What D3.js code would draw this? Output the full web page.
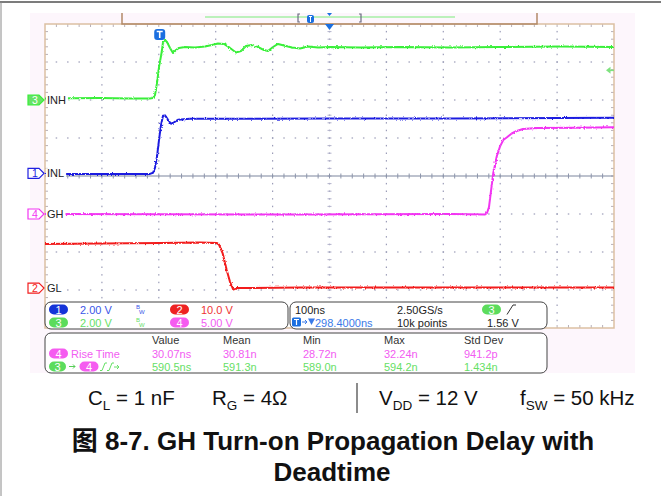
<!DOCTYPE html>
<html>
<head>
<meta charset="utf-8">
<script src="https://cdn.jsdelivr.net/npm/d3@7"></script>
<style>
  html, body { margin: 0; padding: 0; background: #ffffff; }
  svg { display: block; }
  text { font-family: "Liberation Sans", Arial, "Noto Sans CJK SC", sans-serif; }
</style>
</head>
<body>
<svg id="chart" width="661" height="496"></svg>
<script>
// ---- data read off the scope capture ----
// traces as [time ns, volts], time 0 = trigger
const inlTrace = [[-201.6,-0.03],[-17.1,-0.03],[-11.8,0.03],[-8.3,0.29],[-4.8,0.87],[-1.2,1.76],[2.3,2.55],[5.8,3.03],[9.3,3.05],[14.6,2.82],[19.8,2.61],[25.1,2.68],[32.1,2.82],[53.2,2.87],[158.7,2.87],[299.3,2.89],[510.2,2.89],[798.4,2.92]];
const glTrace = [[-201.6,11.58],[-104.9,11.71],[0.5,11.84],[70.8,11.97],[100.7,11.84],[104.2,11.45],[110.7,9.13],[117.7,4.74],[123.5,1.66],[129.3,-0.39],[135.8,0],[246.6,0.13],[510.2,0.13],[798.4,0.13]];
const inhTrace = [[-201.6,0.08],[-104.9,0.1],[-52.2,0.08],[-17.1,0.08],[-11.8,0.1],[-8.3,0.26],[-4.8,0.89],[-1.2,1.74],[2.3,2.32],[4.0,2.63],[5.8,3.05],[9.3,3.16],[12.8,3.05],[18.1,2.74],[23.4,2.47],[28.6,2.63],[33.9,2.74],[44.4,2.79],[62.0,2.76],[79.6,2.82],[91.9,2.89],[102.4,2.97],[113.0,2.95],[123.5,2.74],[134.1,2.5],[142.9,2.58],[151.6,2.84],[162.2,2.89],[172.7,2.79],[183.3,2.63],[190.3,2.58],[199.1,2.79],[207.9,2.95],[218.4,2.87],[232.5,2.76],[246.6,2.71],[260.6,2.82],[278.2,2.76],[299.3,2.79],[352.0,2.76],[422.3,2.79],[510.2,2.76],[598.0,2.79],[703.5,2.82],[798.4,2.79]];
const ghTrace = [[-201.6,0],[246.6,-0.07],[510.2,0],[571.7,-0.07],[575.2,0.13],[578.7,0.92],[583.1,3.55],[586.2,5.39],[589.3,6.45],[592.2,7.54],[598.0,8.86],[603.8,9.74],[609.8,10.07],[618.6,10.59],[627.4,10.92],[638.5,11.18],[663.1,11.32],[729.9,11.34],[798.4,11.41]];

const chNumbers = [1, 2, 3, 4];
const chLabels = ["INL", "GL", "INH", "GH"];
const chVoltsPerDiv = [2, 10, 2, 5];
const chGroundDiv = [0.07, -2.95, 2.0, -1.0];
const chScaleText = ["2.00 V", "10.0 V", "2.00 V", "5.00 V"];
const traces = [inlTrace, glTrace, inhTrace, ghTrace];

const timeRange = [-201.6, 798.4];     // 100 ns/div, 10 div
const triggerLevel = 1.56;             // V on ch3

const measHeaders = ["Value", "Mean", "Min", "Max", "Std Dev"];
const riseTimeRow = ["30.07ns", "30.81n", "28.72n", "32.24n", "941.2p"];
const delayRow = ["590.5ns", "591.3n", "589.0n", "594.2n", "1.434n"];

// ---- look ----
const traceColor = ["#1f1fe0", "#f21d1d", "#39ef39", "#f234f2"];
const textColor = ["#3a55e8", "#ee3333", "#66e066", "#f25cf2"];
const pillColor = ["#1434d8", "#ee2222", "#5cdc5c", "#f55cf0"];

const svg = d3.select("#chart");
const X0 = 45, X1 = 614, Y0 = 24, Y1 = 328;

const x = d3.scaleLinear().domain(timeRange).range([X0, X1]);
const yDiv = d3.scaleLinear().domain([-4, 4]).range([Y1, Y0]);
const yOf = (i, v) => yDiv(chGroundDiv[i] + v / chVoltsPerDiv[i]);

const defs = svg.append("defs");
defs.append("clipPath").attr("id", "gridclip")
  .append("rect").attr("x", X0).attr("y", Y0).attr("width", X1 - X0).attr("height", Y1 - Y0);
// a bit of sampling fuzz on the traces
const fz = defs.append("filter").attr("id", "fuzz")
  .attr("filterUnits", "userSpaceOnUse").attr("x", 0).attr("y", 0).attr("width", 661).attr("height", 496);
fz.append("feTurbulence").attr("type", "fractalNoise").attr("baseFrequency", "0.9 0.6")
  .attr("numOctaves", 1).attr("seed", 4).attr("result", "n");
fz.append("feDisplacementMap").attr("in", "SourceGraphic").attr("in2", "n")
  .attr("scale", 3).attr("xChannelSelector", "R").attr("yChannelSelector", "G");

// page frame
svg.append("line").attr("x1", 0).attr("x2", 661).attr("y1", 2).attr("y2", 2).attr("stroke", "#7c7c7c").attr("stroke-width", 2);
svg.append("line").attr("x1", 1).attr("x2", 1).attr("y1", 2).attr("y2", 496).attr("stroke", "#8a8a8a").attr("stroke-width", 1);

// scope screen
svg.append("rect").attr("x", 30).attr("y", 13).attr("width", 605).attr("height", 360).attr("fill", "#fdf6fc");
svg.append("rect").attr("x", X0).attr("y", Y0).attr("width", X1 - X0).attr("height", Y1 - Y0).attr("fill", "#ffffff");

// grid
const divW = (X1 - X0) / 10, divH = (Y1 - Y0) / 8;
const grid = svg.append("g").attr("fill", "#9c9db8");
const minorX = d3.range(1, 50).map(k => X0 + k * divW / 5);
const minorY = d3.range(1, 40).map(k => Y0 + k * divH / 5);
d3.range(1, 10).forEach(i => {
  const gx = X0 + i * divW;
  grid.selectAll(null).data(minorY).enter().append("rect")
    .attr("x", gx - 0.6).attr("y", d => d - 0.7).attr("width", 1.2).attr("height", 1.5);
});
d3.range(1, 8).filter(j => j !== 4).forEach(j => {
  const gy = Y0 + j * divH;
  grid.selectAll(null).data(minorX).enter().append("rect")
    .attr("x", d => d - 0.7).attr("y", gy - 0.6).attr("width", 1.5).attr("height", 1.2);
});
// edge ticks
const ticks = svg.append("g").attr("stroke", "#b8b0b8").attr("stroke-width", 1);
minorX.forEach(d => {
  ticks.append("line").attr("x1", d).attr("x2", d).attr("y1", Y0).attr("y2", Y0 + 3);
  ticks.append("line").attr("x1", d).attr("x2", d).attr("y1", Y1 - 3).attr("y2", Y1);
});
minorY.forEach(d => {
  ticks.append("line").attr("x1", X0).attr("x2", X0 + 3).attr("y1", d).attr("y2", d);
  ticks.append("line").attr("x1", X1 - 3).attr("x2", X1).attr("y1", d).attr("y2", d);
  ticks.append("line").attr("x1", X0 + 5 * divW - 2).attr("x2", X0 + 5 * divW + 2).attr("y1", d).attr("y2", d).attr("stroke", "#b4b4cc");
});
// centre axis
const cy = yDiv(0);
svg.append("line").attr("x1", X0).attr("x2", X1).attr("y1", cy).attr("y2", cy).attr("stroke", "#7d869e").attr("stroke-width", 1.2);
svg.append("g").attr("stroke", "#8d95ab").selectAll("line").data(minorX).enter().append("line")
  .attr("x1", d => d).attr("x2", d => d).attr("y1", cy - 2.5).attr("y2", cy + 2.5);

// grid border
svg.append("rect").attr("x", X0).attr("y", Y0).attr("width", X1 - X0).attr("height", Y1 - Y0)
  .attr("fill", "none").attr("stroke", "#dcc0a2").attr("stroke-width", 1.5);

// top status bar
const topBar = svg.append("g");
topBar.append("path").attr("d", `M122,13V${Y0}H537V13`).attr("fill", "none").attr("stroke", "#b38a68").attr("stroke-width", 1.5);
topBar.append("line").attr("x1", 205).attr("x2", 455).attr("y1", 17).attr("y2", 17).attr("stroke", "#a6efa6").attr("stroke-width", 1.5);
topBar.append("path").attr("d", "M300,14H298V22H300").attr("fill", "none").attr("stroke", "#6c6c80").attr("stroke-width", 1.2);
topBar.append("path").attr("d", "M359,14H361V22H359").attr("fill", "none").attr("stroke", "#6c6c80").attr("stroke-width", 1.2);
topBar.append("rect").attr("x", 307).attr("y", 15).attr("width", 7).attr("height", 8).attr("rx", 2).attr("fill", "#1b6fe0");
topBar.append("path").attr("d", "M309,16.5H312M310.5,16.5V22").attr("stroke", "#ffffff").attr("stroke-width", 1);
const xc = X0 + 5 * divW;
topBar.append("path").attr("d", `M${xc - 2.5},13L${xc + 2.5},13L${xc},16Z`).attr("fill", "#1b6fe0");
topBar.append("path").attr("d", `M${xc - 4.5},${Y0}L${xc + 4.5},${Y0}L${xc},${Y0 + 6}Z`).attr("fill", "#1b6fe0");

// trigger marker
const tx = x(0);
svg.append("rect").attr("x", tx - 5.5).attr("y", 29).attr("width", 11).attr("height", 11).attr("rx", 3).attr("fill", "#1b6fe0");
svg.append("path").attr("d", `M${tx - 3},31.5H${tx + 3}M${tx},31.5V38`).attr("stroke", "#ffffff").attr("stroke-width", 1.6);

// traces
const line = d3.line().x(d => x(d[0]));
const tr = svg.append("g").attr("clip-path", "url(#gridclip)");
const tg = tr.append("g").attr("filter", "url(#fuzz)");
traces.forEach((data, i) => {
  tg.append("path").datum(data)
    .attr("d", line.y(d => yOf(i, d[1])))
    .attr("fill", "none").attr("stroke", traceColor[i]).attr("stroke-width", 2)
    .attr("stroke-linejoin", "round");
});

// channel ground markers and labels
chNumbers.forEach((n, i) => {
  const gy = yOf(i, 0);
  const g = svg.append("g");
  const filled = n === 3;
  g.append("path").attr("d", `M28,${gy - 5}H39L44,${gy}L39,${gy + 5}H28Z`)
    .attr("fill", filled ? "#66e266" : "#ffffff").attr("stroke", traceColor[i]).attr("stroke-width", 1.2);
  g.append("text").attr("x", 35).attr("y", gy + 3.8).attr("text-anchor", "middle")
    .attr("font-size", 10.5).attr("fill", filled ? "#ffffff" : traceColor[i]).text(n);
  const lbl = g.append("text").attr("x", 47).attr("y", gy + 4).attr("font-size", 11).attr("fill", "#222222").text(chLabels[i]);
  const w = lbl.node().getComputedTextLength();
  g.insert("rect", "text:last-of-type").attr("x", 46).attr("y", gy - 5).attr("width", w + 3).attr("height", 10).attr("fill", "#ffffff");
});

// trigger level marker (right edge)
const ty = yOf(2, triggerLevel);
svg.append("path").attr("d", `M606,${ty}L610.5,${ty - 3.5}V${ty + 3.5}Z`).attr("fill", "#7fe27f");
svg.append("line").attr("x1", 610).attr("x2", 614).attr("y1", ty).attr("y2", ty).attr("stroke", "#7fe27f").attr("stroke-width", 1.5);

// ---- info panel ----
const info = svg.append("g");
const box = (bx, by, bw, bh) => info.append("rect").attr("x", bx).attr("y", by).attr("width", bw).attr("height", bh)
  .attr("rx", 6).attr("fill", "#ffffff").attr("stroke", "#444444").attr("stroke-width", 1);
box(45, 302, 243, 27);
box(290, 302, 257, 27);
box(45, 333, 502, 40);

const pill = (cxp, cyp, w, n, col) => {
  info.append("rect").attr("x", cxp - w / 2).attr("y", cyp - 5).attr("width", w).attr("height", 10).attr("rx", 5).attr("fill", col);
  info.append("text").attr("x", cxp).attr("y", cyp + 4).attr("text-anchor", "middle").attr("font-size", 11)
    .attr("fill", "#ffffff").text(n);
};
const txt = (tx_, ty_, s, col, size) => info.append("text").attr("x", tx_).attr("y", ty_)
  .attr("font-size", size || 11).attr("fill", col).text(s);

// channel scale box
const rowY = [309.5, 322.5];
const colX = [58.5, 179.5];
const chOrder = [[0, 1], [2, 3]];
chOrder.forEach((row, r) => row.forEach((ci, c) => {
  pill(colX[c], rowY[r], 19, chNumbers[ci], pillColor[ci]);
  txt(colX[c] + 21.5, rowY[r] + 4.5, chScaleText[ci], textColor[ci]);
}));
["#3a55e8", "#66e066"].forEach((col, r) => {
  txt(136, rowY[r] - 0.5, "B", col, 6);
  txt(139, rowY[r] + 4, "W", col, 6);
});

// timebase / trigger box
txt(295, 314, "100ns", "#222222");
txt(397, 314, "2.50GS/s", "#222222");
txt(397, 327, "10k points", "#222222");
pill(491.5, 309.5, 19, 3, pillColor[2]);
info.append("path").attr("d", "M507,314.5L513,305H516").attr("fill", "none").attr("stroke", "#333333").attr("stroke-width", 1);
txt(487, 327, "1.56 V", "#222222");
info.append("rect").attr("x", 292).attr("y", 317.5).attr("width", 9).attr("height", 9).attr("rx", 1.5).attr("fill", "#1b6fe0");
info.append("path").attr("d", "M294,319.5H299M296.5,319.5V325").attr("stroke", "#ffffff").attr("stroke-width", 1.2);
info.append("path").attr("d", "M302,322H307M305,320L307,322L305,324").attr("fill", "none").attr("stroke", "#3a7ae8").attr("stroke-width", 1);
info.append("path").attr("d", "M308,318.5H315L311.5,325Z").attr("fill", "#3a7ae8");
txt(315, 327, "298.4000ns", "#3a7ae8");

// measurement box
const measX = [152, 223, 303, 384, 464];
measHeaders.forEach((h, k) => txt(measX[k], 344, h, "#333333"));
pill(58.5, 353.5, 19, 4, pillColor[3]);
txt(71, 358, "Rise Time", textColor[3]);
riseTimeRow.forEach((v, k) => txt(measX[k], 358, v, textColor[3]));
pill(57.5, 366.5, 17, 3, pillColor[2]);
info.append("path").attr("d", "M69,366.5H75M73,364.5L75,366.5L73,368.5").attr("fill", "none").attr("stroke", "#55cc55").attr("stroke-width", 1);
pill(89, 366.5, 19, 4, pillColor[3]);
info.append("path").attr("d", "M100,370.5H102L105,363H107M107,370.5H109L112,363H114M114,367H119M117,365L119,367L117,369")
  .attr("fill", "none").attr("stroke", "#66e066").attr("stroke-width", 1);
delayRow.forEach((v, k) => txt(measX[k], 370.5, v, textColor[2]));

// ---- caption ----
const cap = svg.append("g").attr("font-size", 20.5).attr("fill", "#111111");
const capItems = [["C", "L", " = 1 nF", 88], ["R", "G", " = 4\u03A9", 212], ["V", "DD", " = 12 V", 379], ["f", "SW", " = 50 kHz", 520]];
capItems.forEach(([a, sub, rest, cx_]) => {
  const t = cap.append("text").attr("x", cx_).attr("y", 405);
  t.append("tspan").text(a);
  t.append("tspan").attr("font-size", 13.5).attr("dy", 5).text(sub);
  t.append("tspan").attr("dy", -5).text(rest);
});
svg.append("line").attr("x1", 357).attr("x2", 357).attr("y1", 383).attr("y2", 413).attr("stroke", "#666666").attr("stroke-width", 1.5);

const title = svg.append("g").attr("font-size", 26).attr("font-weight", "bold").attr("fill", "#111111").attr("text-anchor", "middle");
title.append("text").attr("x", 333).attr("y", 450).text("\u56FE 8-7. GH Turn-on Propagation Delay with");
title.append("text").attr("x", 332).attr("y", 481).text("Deadtime");
</script>
</body>
</html>
